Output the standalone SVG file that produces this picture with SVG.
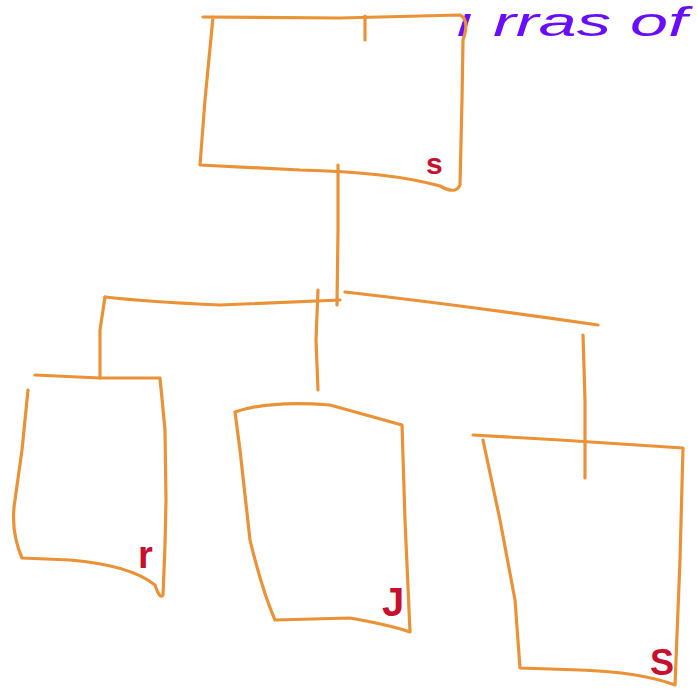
<svg xmlns="http://www.w3.org/2000/svg" width="697" height="700" viewBox="0 0 697 700">
<style>
.o{fill:none;stroke:#EB9236;stroke-width:3.2;stroke-linecap:round;stroke-linejoin:round}
.r{font-family:"Liberation Sans",sans-serif;font-weight:bold;fill:#C8102E}
.p{font-family:"Liberation Sans",sans-serif;font-style:italic;fill:#6A0DFF;font-size:40px}
</style>
<rect width="697" height="700" fill="#fff"/>
<text class="p" x="455" y="36" textLength="232" lengthAdjust="spacingAndGlyphs">ı rras  of</text>
<g id="root">
<path class="o" d="M203,17 L340,18 L460,15 Q470,20 463,40 L462,100 L460,185 Q456,195 440,186 Q390,172 300,170 L200,165 L205,100 L213,17"/>
<path class="o" d="M365,16 L365,40"/>
<text class="r" x="426" y="174" font-size="30">s</text>
</g>
<g id="left">
<path class="o" d="M35,375 L100,378 L160,378 L165,430 L166,500 L165,545 L163,595 Q160,600 155,585 Q130,565 70,560 L22,558 Q10,530 15,500 L22,450 L28,390"/>
<text class="r" x="138" y="568" font-size="38">r</text>
</g>
<g id="middle">
<path class="o" d="M235,412 Q270,400 330,405 L402,425 L405,520 L410,632 Q390,625 350,618 L275,620 Q262,590 250,540 L240,450 L235,412"/>
<text class="r" x="382" y="616" font-size="40">J</text>
</g>
<g id="right">
<path class="o" d="M473,435 L560,440 L683,448 L680,560 L675,685 Q640,672 580,670 L520,668 L515,600 L500,520 L483,440"/>
<text class="r" x="650" y="675" font-size="36">S</text>
</g>
<g id="connectors">
<path class="o" d="M338,165 L338,230 L337,305"/>
<path class="o" d="M105,297 Q150,302 220,305 L340,300"/>
<path class="o" d="M105,297 L100,330 L100,378"/>
<path class="o" d="M318,290 L316,340 L318,390"/>
<path class="o" d="M345,292 Q460,305 598,325"/>
<path class="o" d="M583,335 L585,400 L585,478"/>
</g>
</svg>
